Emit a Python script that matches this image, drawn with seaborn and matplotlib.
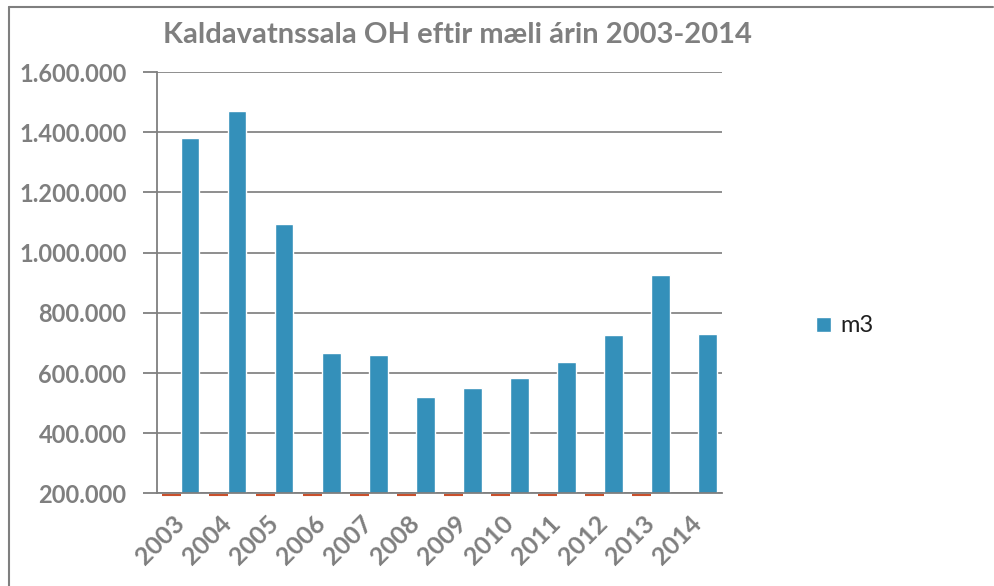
import numpy as np
import pandas as pd
import matplotlib.pyplot as plt
import seaborn as sns
from matplotlib.ticker import FuncFormatter
from matplotlib.lines import Line2D
from matplotlib.patches import Patch

# data
years = ["2003", "2004", "2005", "2006", "2007", "2008",
         "2009", "2010", "2011", "2012", "2013", "2014"]
m3 = [1380000, 1471000, 1095000, 666000, 659000, 520000,
      550000, 583000, 638000, 727000, 925000, 729000]
# second series (the year column itself) - far below the axis floor
ar = [2003, 2004, 2005, 2006, 2007, 2008,
      2009, 2010, 2011, 2012, 2013, np.nan]

YMIN, YMAX = 200000, 1600000
BLUE = "#3490BA"
RED = "#C9502C"
GREY = "#7F7F7F"

df = pd.DataFrame({
    "year": years * 2,
    "series": ["ár"] * len(years) + ["m3"] * len(years),
    "value": ar + m3,
})

sns.set_style("white")
plt.rcParams["font.family"] = ["Lato", "DejaVu Sans"]

fig = plt.figure(figsize=(9.94, 5.86), dpi=100)
ax = fig.add_axes([0.158, 0.158, 0.568, 0.719])

sns.barplot(data=df, x="year", y="value", hue="series",
            hue_order=["ár", "m3"], palette=[RED, BLUE],
            width=0.8, saturation=1, legend=False, ax=ax)

# Excel draws out-of-range bars as a thin line at the axis floor
for p in ax.patches:
    if p.get_facecolor()[0] > 0.6 and p.get_width() > 0:
        p.set_y(YMIN - 3 * p.get_height())
        p.set_edgecolor(RED)
        p.set_linewidth(1.5)
        p.set_clip_on(False)
        p.set_zorder(4)

ax.set_ylim(YMIN, YMAX)
ax.set_xlim(-0.5, len(years) - 0.5)
ax.set_yticks(np.arange(YMIN, YMAX + 1, 200000))
ax.yaxis.set_major_formatter(FuncFormatter(lambda v, _: f"{int(v):,}".replace(",", ".")))
ax.grid(axis="y", color="#868686", linewidth=1.3)
ax.set_axisbelow(True)

for s in ["top", "right"]:
    ax.spines[s].set_visible(False)
for s in ["left", "bottom"]:
    ax.spines[s].set_color(GREY)
    ax.spines[s].set_linewidth(1.3)
    ax.spines[s].set_zorder(3)

ax.set_xticks(np.arange(-0.5, len(years), 1), minor=True)
ax.tick_params(axis="x", which="minor", length=7, color=GREY, width=1.3)
ax.tick_params(axis="x", which="major", length=0, pad=19)
ax.tick_params(axis="y", length=10, color=GREY, width=1.3, direction="out",
               left=True, pad=12)
for lab in ax.get_xticklabels():
    lab.set_rotation(45)
    lab.set_ha("right")
    lab.set_va("center")
    lab.set_rotation_mode("anchor")
    lab.set_fontsize(18)
for lab in ax.get_yticklabels():
    lab.set_fontsize(17)
for lab in ax.get_xticklabels() + ax.get_yticklabels():
    lab.set_fontweight("bold")
    lab.set_color(GREY)

ax.set_xlabel("")
ax.set_ylabel("")

fig.text(0.46, 0.94, "Kaldavatnssala OH eftir mæli árin 2003-2014",
         ha="center", va="center", fontsize=21, fontweight="bold", color=GREY)

leg = fig.legend(handles=[Patch(facecolor=BLUE, label="m3")], loc="center left",
                 bbox_to_anchor=(0.8, 1 - 326 / 586), frameon=False, fontsize=17,
                 handlelength=0.6, handleheight=0.6, handletextpad=0.4)
for t in leg.get_texts():
    t.set_color("#1F1F1F")

# chart border (left and top edges visible)
fig.add_artist(Line2D([0.009, 0.009], [0.0, 0.988], color=GREY, linewidth=1.5))
fig.add_artist(Line2D([0.009, 0.999], [0.988, 0.988], color=GREY, linewidth=1.5))

fig.savefig("out.png", dpi=100)
